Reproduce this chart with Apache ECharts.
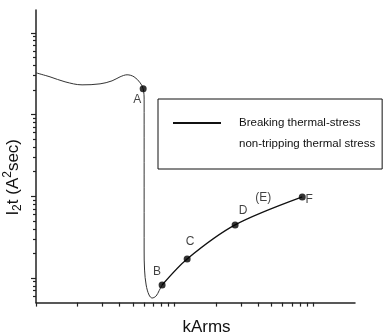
<!DOCTYPE html>
<html><head><meta charset="utf-8">
<script src="https://cdn.jsdelivr.net/npm/echarts@6/dist/echarts.min.js"></script>
<style>html,body{margin:0;padding:0;background:#fff}#c{width:383px;height:335px}</style>
</head><body><div id="c"></div>
<script>
// upper curve: non-tripping thermal stress (kArms, I2t)
const upperX = [1, 1.262, 1.62, 2.149, 2.898, 3.537, 4.04, 4.54, 5.10, 5.64, 5.93, 6.025, 6.025, 6.025, 6.025, 6.07, 6.23, 6.54, 6.88, 7.35, 7.73, 8.12];
const upperY = [3236, 2891, 2512, 2307, 2373, 2583, 2891, 3062, 2891, 2443, 2061, 1512, 369, 90.2, 22.0, 12.5, 8.21, 6.19, 5.69, 6.02, 7.0, 8.21];
// lower curve: breaking thermal-stress
const lowerX = [8.12, 12.31, 27.3, 83.3];
const lowerY = [8.21, 17.1, 44.6, 98.2];
// marked points
const pointNames = ['A', 'B', 'C', 'D', 'F'];
const pointX = [5.93, 8.12, 12.31, 27.3, 83.3];
const pointY = [2061, 8.21, 17.1, 44.6, 98.2];
// free note on the curve
const noteText = ['(E)'];
const noteX = [43.5];
const noteY = [95.5];
// axis ticks
const xTicks = [1, 2, 3, 4, 5, 6, 7, 8, 9, 10, 20, 30, 40, 50, 60, 70, 80, 90, 100];
const yMajorTicks = [10, 100, 1000, 10000];
const yMinorTicks = [6, 7, 8, 9, 20, 30, 40, 50, 60, 70, 80, 90, 200, 300, 400, 500, 600, 700, 800, 900, 2000, 3000, 4000, 5000, 6000, 7000, 8000, 9000];
const seriesNames = ['Breaking thermal-stress', 'non-tripping thermal stress'];

const labelOffset = { A: [-6, 11], B: [-5, -13], C: [3, -17], D: [8, -14], F: [7, 3] };
const zip = (xs, ys) => xs.map((x, i) => [x, ys[i]]);
const axisColor = '#222';
const sans = '"Liberation Sans", Arial, sans-serif';

function yAx(ticks, len, main) {
  const a = {
    type: 'log', logBase: 10, min: 5, max: 19000, position: 'left', offset: 0,
    axisLine: { show: true, onZero: false, lineStyle: { color: main ? axisColor : 'rgba(0,0,0,0)', width: 1.5 } },
    axisTick: { show: true, customValues: ticks, length: len, lineStyle: { color: axisColor, width: 1.2 } },
    axisLabel: { show: false }, splitLine: { show: false }, minorTick: { show: false }
  };
  if (main) {
    a.name = '{n|I}{s|2}{n|t (A}{p|2}{n|sec)}'; a.nameLocation = 'middle'; a.nameGap = 12;
    a.nameTextStyle = {
      color: '#111', padding: [0, 42, 0, 0],
      rich: {
        n: { fontFamily: sans, fontSize: 17, color: '#111' },
        s: { fontFamily: sans, fontSize: 12, color: '#111', padding: [9, 0, 0, 0] },
        p: { fontFamily: sans, fontSize: 12, color: '#111', padding: [0, 0, 10, 0] }
      }
    };
  }
  return a;
}

const chart = echarts.init(document.getElementById('c'), null, { renderer: 'canvas' });
chart.setOption({
  animation: false,
  backgroundColor: '#fff',
  grid: { left: 36, right: 28, top: 10, bottom: 32.4, containLabel: false, outerBoundsMode: 'none' },
  xAxis: {
    type: 'log', logBase: 10, min: 1, max: 200, position: 'bottom',
    axisLine: { show: true, onZero: false, lineStyle: { color: axisColor, width: 1.5 } },
    axisTick: { show: true, customValues: xTicks, length: 4, lineStyle: { color: axisColor, width: 1.2 } },
    axisLabel: { show: false }, splitLine: { show: false }, minorTick: { show: false },
    name: 'kArms', nameLocation: 'middle', nameGap: 16,
    nameTextStyle: { fontFamily: sans, fontSize: 17, color: '#111', padding: [0, 0, 0, 22] }
  },
  yAxis: [yAx(yMajorTicks, 5, true), yAx(yMinorTicks, 3, false)],
  legend: {
    orient: 'vertical', left: 158, top: 99,
    padding: [18, 7, 19, 14], itemWidth: 48, itemHeight: 14, itemGap: 9,
    borderColor: '#111', borderWidth: 1, borderRadius: 0, backgroundColor: '#fff',
    textStyle: { fontFamily: sans, fontSize: 11.5, color: '#111', padding: [0, 0, 0, 13] },
    data: [
      { name: seriesNames[0], itemStyle: { opacity: 0 } },
      { name: seriesNames[1], itemStyle: { opacity: 0 }, lineStyle: { opacity: 0 } }
    ]
  },
  series: [
    {
      name: seriesNames[0], type: 'line', data: zip(lowerX, lowerY), smooth: 0.3,
      symbol: 'none', lineStyle: { color: '#111', width: 1.3 }, itemStyle: { color: '#111' }, z: 3
    },
    {
      name: seriesNames[1], type: 'line', data: zip(upperX, upperY), smooth: 0.35,
      symbol: 'none', lineStyle: { color: '#333', width: 1 }, itemStyle: { color: '#333' }, z: 2
    },
    {
      name: 'points', type: 'scatter', symbolSize: 7, itemStyle: { color: '#000' }, z: 4,
      data: pointNames.map((n, i) => ({
        name: n, value: [pointX[i], pointY[i]],
        label: { show: true, position: 'inside', offset: labelOffset[n], formatter: n,
                 fontFamily: sans, fontSize: 12, color: '#111' }
      }))
    },
    {
      name: 'note', type: 'scatter', symbolSize: 0, z: 4,
      data: noteText.map((t, i) => ({
        name: t, value: [noteX[i], noteY[i]],
        label: { show: true, position: 'inside', formatter: t, fontFamily: sans, fontSize: 12, color: '#111' }
      }))
    }
  ]
});
</script></body></html>
